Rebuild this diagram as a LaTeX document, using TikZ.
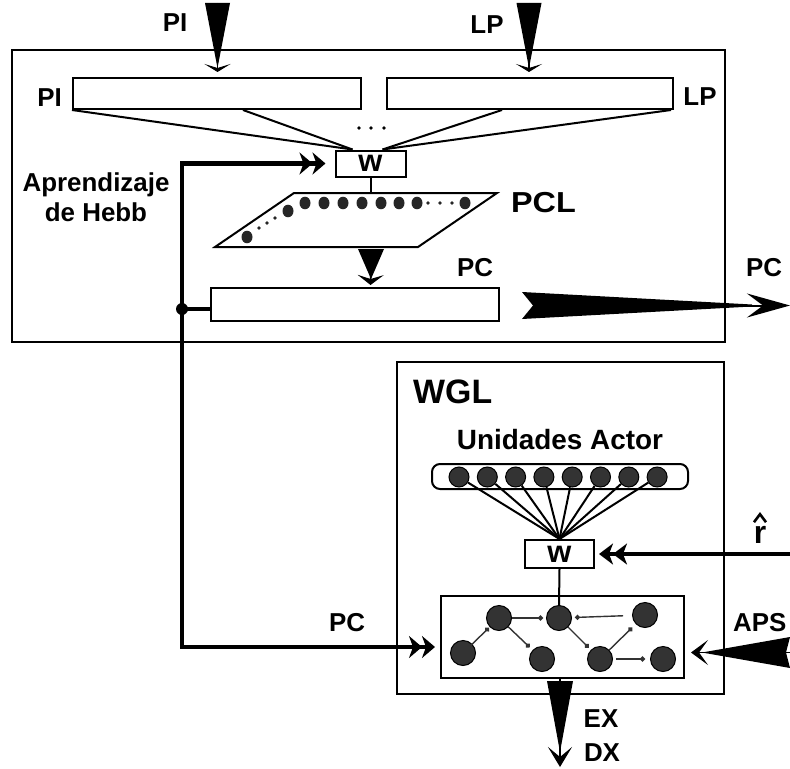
\documentclass[tikz,border=0pt]{standalone}
\usepackage{fontspec}
\setmainfont{Liberation Sans}
\usetikzlibrary{arrows.meta}

\tikzset{
  frame/.style={draw, line width=2bp, inner sep=0pt},
  bar/.style={draw, line width=2bp, inner sep=0pt, fill=white},
  wbox/.style={bar, minimum width=70bp, minimum height=26bp, font=\fontsize{31}{31}\selectfont\bfseries},
  lbl/.style={inner sep=0pt, font=\fontsize{26}{30}\selectfont\bfseries},
  neuron/.style={circle, draw, line width=1bp, fill=black!80, inner sep=0pt, minimum size=#1},
  link/.style={line width=1.4bp, draw=black!80, -{Circle[length=5bp]}},
}

\begin{document}
\begin{tikzpicture}[x=1bp, y=-1bp, line join=miter]
    \useasboundingbox (0,0) rectangle (790,769);

    % Blocco superiore: PI, LP, pesi w, strato PCL, uscita PC
    \node[frame, minimum width=713bp, minimum height=292bp] (pclbox) at (368.5,196) {};
    \node[bar, minimum width=288bp, minimum height=31bp] (pirect) at (217,93.5) {};
    \node[bar, minimum width=286bp, minimum height=31bp] (lprect) at (530,93.5) {};
    \node[wbox] (wtop) at (370.5,163.5) {w};
    \node[bar, minimum width=288bp, minimum height=33bp] (pcrect) at (355,304.5) {};

    % Etichette
    \node[lbl] (pitop) at (175,23) {PI};
    \node[lbl] (lptop) at (487,25) {LP};
    \node[lbl] (pileft) at (49.5,98) {PI};
    \node[lbl] (lpright) at (700,97) {LP};
    \node[lbl, align=center] (hebb) at (96,197) {Aprendizaje\\de Hebb};
    \node[lbl, font=\fontsize{29}{32}\selectfont\bfseries] (pcllbl) at (543.5,203) {\scalebox{1.12}[1]{PCL}};
    \node[lbl] (pcin) at (475,268) {PC};
    \node[lbl] (pcright) at (764,268) {PC};

    % Proiezioni verso w
    \draw[line width=2bp] (pirect.south west) -- ([xshift=-18bp]wtop.north);
    \draw[line width=2bp] ([xshift=26bp]pirect.south) -- ([xshift=-18bp]wtop.north);
    \draw[line width=2bp] ([xshift=-28bp]lprect.south) -- ([xshift=12bp]wtop.north);
    \draw[line width=2bp] ([xshift=-3bp]lprect.south east) -- ([xshift=12bp]wtop.north);
    \foreach \x in {359,371,384}
        \fill (\x,128) circle (1.8bp);

    % Strato PCL (parallelogramma con unita)
    \draw[line width=2bp, fill=white] (294,193) -- (497,193) -- (418,247) -- (215,247) -- cycle;
    \coordinate (pcltop) at (370.5,193);
    \draw[line width=2bp] (wtop) -- (pcltop);
    \foreach \x in {305,324,343,362,381,399,417,465}
        \fill[black!85] (\x,203) circle[x radius=5.5bp, y radius=6.3bp];
    \foreach \x in {428,440,452}
        \fill[black!85] (\x,203) circle (1.8bp);
    \fill[black!85] (288,211) circle[x radius=5.5bp, y radius=6.3bp];
    \fill[black!85] (247,237) circle[x radius=5.5bp, y radius=6.3bp];
    \foreach \p in {(275,218),(267,223),(259,228)}
        \fill[black!85] \p circle (1.8bp);

    % Frecce a cuneo in ingresso
    \coordinate (pisrc) at (217.5,3);
    \fill (205,3) -- (230,3) -- (217.5,68) -- cycle;
    \draw[line width=1.5bp, -{Stealth[length=8bp,width=26bp,inset=4bp]}, shorten >=5bp] (pisrc) -- (pisrc |- pirect.north);
    \coordinate (lpsrc) at (529,3);
    \fill (516.5,3) -- (541.5,3) -- (529,68) -- cycle;
    \draw[line width=1.5bp, -{Stealth[length=8bp,width=26bp,inset=4bp]}, shorten >=5bp] (lpsrc) -- (lpsrc |- lprect.north);

    % Da PCL a PC
    \fill (358,249) -- (384,249) -- (371,279) -- cycle;
    \draw[line width=1.5bp, -{Stealth[length=10bp,width=26bp,inset=4bp]}, shorten >=2bp] (371,250) -- (pcltop |- pcrect.north);

    % Uscita PC
    \coordinate (pcout) at (790,305.5);
    \fill (522,292) -- (533,305.5) -- (522,319) -- (752,306.5) -- (752,304.5) -- cycle;
    \draw[line width=2bp, -{Stealth[length=43bp,width=24bp,inset=16bp]}] (740,305.5) -- (pcout);

    % Retroazione (aprendizaje de Hebb) e ingresso PC al WGL
    \coordinate (fbcorner) at (182,647);
    \coordinate (junc) at (182,309);
    \draw[line width=4.5bp, {Stealth[length=13bp,width=22bp,inset=4bp]Stealth[length=13bp,width=22bp,inset=4bp]}-{Stealth[length=13bp,width=22bp,inset=4bp]Stealth[length=13bp,width=22bp,inset=4bp]}, shorten <=9bp, shorten >=6bp]
        (wtop.west) -| (fbcorner) -- (fbcorner -| 441,0);
    \fill (junc) circle (6bp);
    \draw[line width=4bp] (junc) -- (junc -| pcrect.west);
    \node[lbl] (pcwgl) at (347,623) {PC};

    % Blocco WGL
    \node[frame, minimum width=327bp, minimum height=332bp] (wglbox) at (560.5,528) {};
    \node[lbl, font=\fontsize{34}{38}\selectfont\bfseries, anchor=west] (wgllbl) at (413,392) {WGL};
    \node[lbl, font=\fontsize{28}{32}\selectfont\bfseries] (actorlbl) at (560,440) {Unidades Actor};
    \node[draw, line width=2bp, rounded corners=8bp, minimum width=256bp, minimum height=25bp] (actor) at (560,476.5) {};
    \node[wbox, minimum width=69bp, minimum height=28bp] (wbot) at (559.5,554) {w};
    \node[frame, minimum width=243bp, minimum height=82bp] (net) at (562.5,637) {};

    % Unita actor collegate ai pesi
    \foreach \i in {0,...,7}
        \node[neuron=20bp] (a\i) at ({459+28.3*\i},477) {};
    \foreach \i in {0,...,7}
        \draw[line width=2bp] (a\i) -- (wbot.north);

    % Rete interna
    \node[neuron=25bp] (n1) at (499,618) {};
    \node[neuron=25bp] (n2) at (559,618) {};
    \node[neuron=25bp] (n3) at (645,615) {};
    \node[neuron=25bp] (n4) at (463,653) {};
    \node[neuron=25bp] (n5) at (542,659) {};
    \node[neuron=25bp] (n6) at (600,659) {};
    \node[neuron=25bp] (n7) at (663,659) {};
    \draw[line width=2bp] (wbot.south) -- (n2.north);
    \draw[link, shorten >=3bp] (n1) -- (n2);
    \draw[link, shorten <=9bp, shorten >=3bp] (n3) -- (n2);
    \draw[link, shorten <=-6bp, shorten >=1bp] (n4) -- (n1);
    \draw[link, shorten >=4bp] (n1) -- (n5);
    \draw[link, shorten >=3bp] (n2) -- (n6);
    \draw[link, shorten >=5bp] (n6) -- (n3);
    \draw[link, shorten <=3bp, shorten >=5bp] (n6) -- (n7);

    % Rinforzo r (con cappello) e APS
    \coordinate (rsrc) at (790,554);
    \draw[line width=4bp, -{Stealth[length=14bp,width=21bp,inset=4bp]Stealth[length=14bp,width=21bp,inset=4bp]}, shorten >=4bp] (rsrc) -- (wbot.east);
    \node[lbl, font=\fontsize{32}{32}\selectfont\bfseries] (rlbl) at (760,535) {r};
    \draw[line width=2.6bp] ([xshift=-6bp, yshift=4bp]rlbl.north) -- ([yshift=12bp]rlbl.north) -- ([xshift=6bp, yshift=4bp]rlbl.north);
    \coordinate (apssrc) at (790,652.5);
    \fill (790,637) -- (702,652.5) -- (790,668) -- (786,652.5) -- cycle;
    \draw[line width=1.5bp, -{Stealth[length=17bp,width=25bp,inset=9bp]}, shorten >=6bp] (apssrc) -- (net.east |- apssrc);
    \node[lbl, anchor=west] (apslbl) at (733,623) {APS};

    % Uscita EX DX
    \coordinate (exout) at (560,767);
    \fill (547,681) -- (573,681) -- (560,752) -- cycle;
    \draw[line width=1.5bp, -{Stealth[length=20bp,width=24bp,inset=10bp]}] (net.south -| exout) -- (exout);
    \node[lbl] (exlbl) at (601,719) {EX};
    \node[lbl] (dxlbl) at (602,753) {DX};
\end{tikzpicture}
\end{document}
